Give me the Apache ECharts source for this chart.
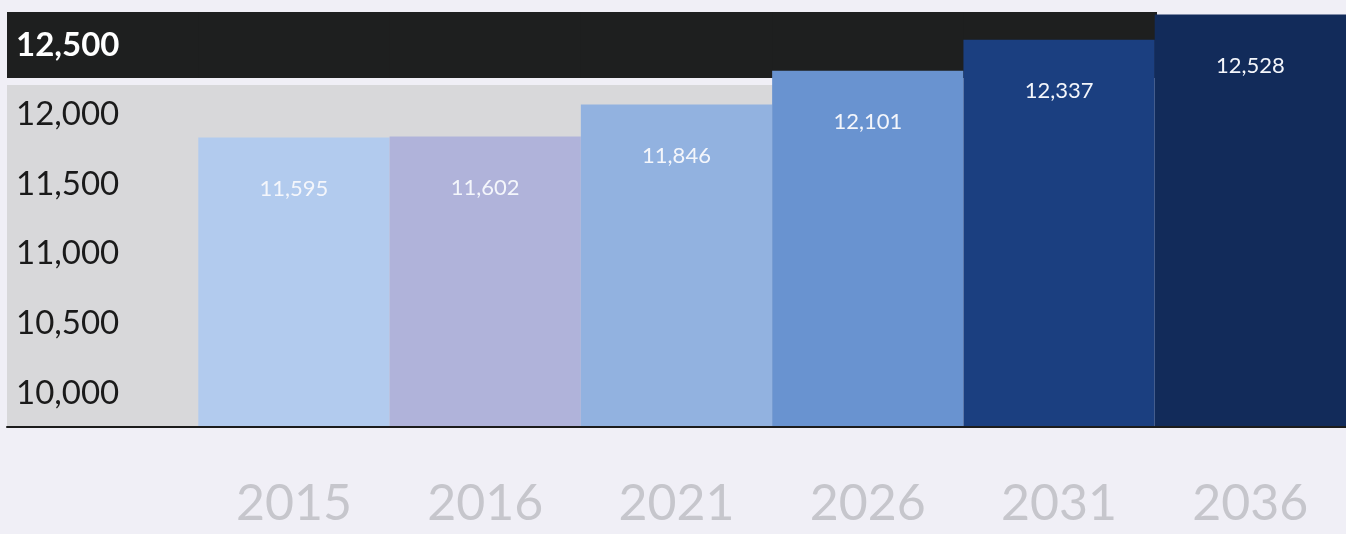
<!DOCTYPE html>
<html>
<head>
<meta charset="utf-8">
<style>
  html, body { margin: 0; padding: 0; background: #f0eff6; }
  #chart { width: 1346px; height: 534px; }
</style>
<script src="https://cdn.jsdelivr.net/npm/echarts@6/dist/echarts.min.js"></script>
</head>
<body>
<div id="chart"></div>
<script>
// ---- data ----
const years = ['2015', '2016', '2021', '2026', '2031', '2036'];
const population = [11595, 11602, 11846, 12101, 12337, 12528];
const tickMin = 10000;
const tickMax = 12500;
const tickStep = 500;
// background bands (in bar-value units)
const greyBandTop = 11993;
const blackBandBottom = 12047;
const blackBandTop = 12547;

const barColors = ['#b2cbee', '#b0b3da', '#92b2e0', '#6993d0', '#1b3f80', '#122b5a'];

const cats = [''].concat(years);
const fmt = v => String(v).replace(/\B(?=(\d{3})+(?!\d))/g, ',');

const greyData = cats.map((c, i) => i <= 3 ? greyBandTop : '-');
const blackBase = cats.map((c, i) => i <= 5 ? blackBandBottom : '-');
const blackFill = cats.map((c, i) => i <= 5 ? blackBandTop - blackBandBottom : '-');
const barData = ['-'].concat(population.map((v, i) => ({ value: v, itemStyle: { color: barColors[i] } })));

const chart = echarts.init(document.getElementById('chart'), null, { renderer: 'canvas' });
chart.setOption({
  backgroundColor: '#f0eff6',
  animation: false,
  grid: [
    { left: 7, right: 0, top: 5, bottom: 107 },
    { left: 7, right: 0, top: 45, height: 348 }
  ],
  xAxis: [
    {
      gridIndex: 0, type: 'category', data: cats, z: 10,
      axisTick: { show: false }, splitLine: { show: false },
      axisLine: { show: true, lineStyle: { color: '#1c1c1c', width: 2 } },
      axisLabel: { color: '#c6c6cc', fontFamily: 'Lato', fontSize: 50, margin: 52 }
    },
    { gridIndex: 1, type: 'category', data: cats, show: false, splitLine: { show: false } }
  ],
  yAxis: [
    { gridIndex: 0, type: 'value', min: 9400, max: 12600, show: false, splitLine: { show: false } },
    {
      gridIndex: 1, type: 'value', min: tickMin, max: tickMax, interval: tickStep, z: 20,
      axisLine: { show: false }, axisTick: { show: false }, splitLine: { show: false },
      axisLabel: {
        inside: true, margin: 9,
        formatter: v => v === tickMax ? '{b|' + fmt(v) + '}' : '{n|' + fmt(v) + '}',
        rich: {
          b: { color: '#ffffff', fontFamily: 'Lato', fontSize: 33, fontWeight: 'bold' },
          n: { color: '#1a1a1a', fontFamily: 'Lato', fontSize: 33 }
        }
      }
    }
  ],
  series: [
    {
      type: 'bar', xAxisIndex: 0, yAxisIndex: 0, data: greyData,
      barGap: '-100%', barCategoryGap: '0%', barWidth: '101.2%',
      itemStyle: { color: '#d8d8da' }, silent: true, z: 1
    },
    {
      type: 'bar', xAxisIndex: 0, yAxisIndex: 0, data: blackBase, stack: 'band',
      barGap: '-100%', barCategoryGap: '0%', barWidth: '101.2%',
      itemStyle: { color: 'rgba(0,0,0,0)' }, silent: true, z: 1
    },
    {
      type: 'bar', xAxisIndex: 0, yAxisIndex: 0, data: blackFill, stack: 'band',
      barGap: '-100%', barCategoryGap: '0%', barWidth: '101.2%',
      itemStyle: { color: '#1e1f1f' }, silent: true, z: 1
    },
    {
      type: 'bar', xAxisIndex: 0, yAxisIndex: 0, data: barData,
      barGap: '-100%', barCategoryGap: '0%', barWidth: '100%', z: 3,
      label: {
        show: true, position: 'insideTop', distance: 40,
        color: '#f4f6fb', fontFamily: 'Lato', fontSize: 22,
        formatter: p => fmt(p.value)
      }
    }
  ]
});
</script>
</body>
</html>
